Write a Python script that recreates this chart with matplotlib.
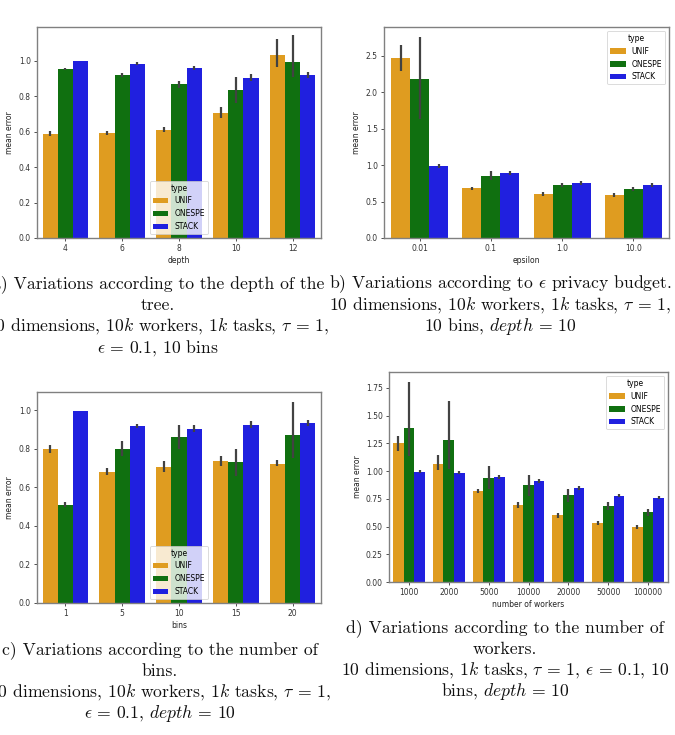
import matplotlib
matplotlib.use('Agg')
import matplotlib.pyplot as plt
import numpy as np

plt.rcParams['mathtext.fontset'] = 'cm'

# series names and colours (seaborn-like desaturated orange / green / blue)
types = ['UNIF', 'ONESPE', 'STACK']
colors = ['#df9c20', '#107010', '#2020df']

# (a) depth
depth_cats = ['4', '6', '8', '10', '12']
depth_mean = [[0.589, 0.594, 0.609, 0.704, 1.032],
              [0.953, 0.919, 0.866, 0.832, 0.991],
              [1.000, 0.983, 0.958, 0.902, 0.921]]
depth_lo = [[0.577, 0.583, 0.595, 0.677, 0.962],
            [0.945, 0.909, 0.847, 0.760, 0.908],
            [1.000, 0.975, 0.947, 0.883, 0.902]]
depth_hi = [[0.604, 0.606, 0.627, 0.738, 1.123],
            [0.961, 0.930, 0.885, 0.906, 1.147],
            [1.000, 0.992, 0.970, 0.923, 0.938]]

# (b) epsilon
eps_cats = ['0.01', '0.1', '1.0', '10.0']
eps_mean = [[2.473, 0.681, 0.603, 0.590],
            [2.182, 0.858, 0.726, 0.676],
            [0.989, 0.894, 0.753, 0.726]]
eps_lo = [[2.296, 0.658, 0.576, 0.567],
          [1.638, 0.794, 0.699, 0.649],
          [0.966, 0.867, 0.731, 0.703]]
eps_hi = [[2.654, 0.703, 0.626, 0.617],
          [2.759, 0.921, 0.758, 0.699],
          [1.021, 0.921, 0.776, 0.749]]

# (c) bins
bins_cats = ['1', '5', '10', '15', '20']
bins_mean = [[0.798, 0.681, 0.707, 0.738, 0.724],
             [0.509, 0.798, 0.859, 0.731, 0.874],
             [0.997, 0.919, 0.905, 0.926, 0.936]]
bins_lo = [[0.781, 0.662, 0.678, 0.710, 0.710],
           [0.498, 0.762, 0.797, 0.660, 0.753],
           [0.997, 0.909, 0.886, 0.909, 0.921]]
bins_hi = [[0.821, 0.702, 0.736, 0.764, 0.743],
           [0.522, 0.840, 0.922, 0.800, 1.043],
           [0.997, 0.931, 0.926, 0.943, 0.952]]

# (d) number of workers
work_cats = ['1000', '2000', '5000', '10000', '20000', '50000', '100000']
work_mean = [[1.252, 1.067, 0.817, 0.695, 0.600, 0.531, 0.492],
             [1.386, 1.285, 0.942, 0.871, 0.781, 0.686, 0.629],
             [0.996, 0.984, 0.948, 0.910, 0.847, 0.778, 0.757]]
work_lo = [[1.184, 1.014, 0.799, 0.668, 0.581, 0.510, 0.477],
           [1.133, 1.020, 0.835, 0.778, 0.725, 0.653, 0.596],
           [0.984, 0.972, 0.930, 0.890, 0.826, 0.763, 0.745]]
work_hi = [[1.321, 1.145, 0.841, 0.722, 0.620, 0.552, 0.513],
           [1.804, 1.631, 1.047, 0.963, 0.835, 0.719, 0.662],
           [1.008, 0.998, 0.966, 0.930, 0.868, 0.796, 0.772]]

captions = {
    'a': ['a) Variations according to the depth of the', 'tree.',
          r'10 dimensions, 10$k$ workers, 1$k$ tasks, $\tau\,=\,1$,',
          r'$\epsilon\,=\,0.1$, 10 bins'],
    'b': [r'b) Variations according to $\epsilon$ privacy budget.',
          r'10 dimensions, 10$k$ workers, 1$k$ tasks, $\tau\,=\,1$,',
          r'10 bins, $depth\,=\,10$'],
    'c': ['c) Variations according to the number of', 'bins.',
          r'10 dimensions, 10$k$ workers, 1$k$ tasks, $\tau\,=\,1$,',
          r'$\epsilon\,=\,0.1$, $depth\,=\,10$'],
    'd': ['d) Variations according to the number of', 'workers.',
          r'10 dimensions, 1$k$ tasks, $\tau\,=\,1$, $\epsilon\,=\,0.1$, 10',
          r'bins, $depth\,=\,10$'],
}

FS = 5.5
W, H = 675, 735


def draw_panel(ax, cats, mean, lo, hi, xlabel, legend_loc, ytop=None):
    x = np.arange(len(cats))
    w = 0.8 / len(types)
    for i, t in enumerate(types):
        pos = x - 0.4 + w * (i + 0.5)
        ax.bar(pos, mean[i], width=w, color=colors[i], label=t, linewidth=0)
        for p, l, h in zip(pos, lo[i], hi[i]):
            ax.plot([p, p], [l, h], color='0.26', linewidth=1.6, solid_capstyle='butt')
    ax.set_xlim(-0.5, len(cats) - 0.5)
    ax.set_ylim(bottom=0)
    if ytop:
        ax.set_ylim(top=ytop)
    ax.set_xticks(x)
    ax.set_xticklabels(cats)
    ax.set_xlabel(xlabel, fontsize=FS, labelpad=2, color='#222222')
    ax.set_ylabel('mean error', fontsize=FS, labelpad=3, color='#222222')
    ax.tick_params(labelsize=FS, length=2.5, width=0.6, pad=2, colors='#333333')
    for s in ax.spines.values():
        s.set_color('#808080')
        s.set_linewidth(1.0)
    leg = ax.legend(title='type', loc=legend_loc, fontsize=FS, title_fontsize=FS,
                    framealpha=0.8, edgecolor='#cccccc')
    leg.get_frame().set_linewidth(0.6)


def px_axes(left, top, right, bottom):
    return fig.add_axes([left / W, 1 - bottom / H, (right - left) / W, (bottom - top) / H])


def put_caption(lines, xc, y0, step=21.5):
    for k, line in enumerate(lines):
        fig.text(xc / W, 1 - (y0 + k * step + 4) / H, line, ha='center', va='baseline',
                 fontsize=12.7, family='cmr10', color='#111111')


fig = plt.figure(figsize=(6.75, 7.35), dpi=100)

ax_a = px_axes(37, 27, 321, 238)
draw_panel(ax_a, depth_cats, depth_mean, depth_lo, depth_hi, 'depth', 'lower center', ytop=1.19)
ax_b = px_axes(384, 27, 669, 238)
draw_panel(ax_b, eps_cats, eps_mean, eps_lo, eps_hi, 'epsilon', 'upper right')
ax_c = px_axes(37, 392, 321, 603)
draw_panel(ax_c, bins_cats, bins_mean, bins_lo, bins_hi, 'bins', 'lower center')
ax_d = px_axes(389, 372, 668, 582)
draw_panel(ax_d, work_cats, work_mean, work_lo, work_hi, 'number of workers', 'upper right')

put_caption(captions['a'], 158, 284)
put_caption(captions['b'], 500, 284)
put_caption(captions['c'], 160, 650)
put_caption(captions['d'], 505, 628)

fig.savefig('out.png', dpi=100)
